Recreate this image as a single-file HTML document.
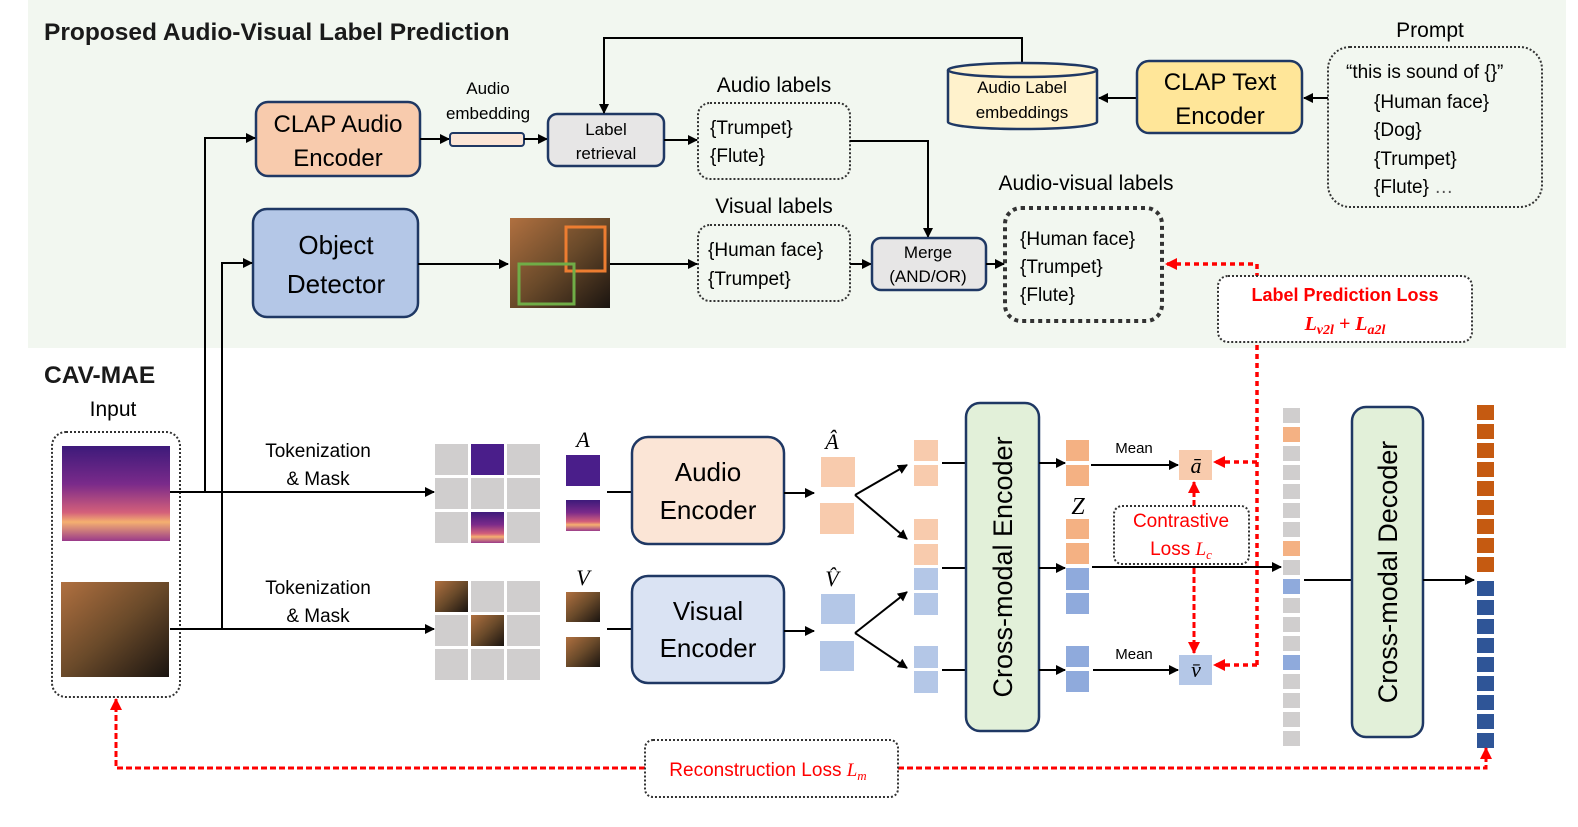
<!DOCTYPE html>
<html><head><meta charset="utf-8"><style>
html,body{margin:0;padding:0;background:#fff;}
svg{display:block;font-family:"Liberation Sans",sans-serif;}
</style></head><body>
<svg width="1578" height="827" viewBox="0 0 1578 827" xmlns="http://www.w3.org/2000/svg">
<defs>
<marker id="ab" markerWidth="10" markerHeight="10" refX="9" refY="5" orient="auto" markerUnits="userSpaceOnUse"><path d="M0,0 L10,5 L0,10 z" fill="#000"/></marker>
<marker id="ar" markerWidth="12" markerHeight="12" refX="11" refY="6" orient="auto" markerUnits="userSpaceOnUse"><path d="M0,0 L12,6 L0,12 z" fill="#f00"/></marker>
<linearGradient id="spec" x1="0" y1="0" x2="0" y2="1"><stop offset="0" stop-color="#3d1a7a"/><stop offset="0.4" stop-color="#7a2a8a"/><stop offset="0.7" stop-color="#d4607a"/><stop offset="0.8" stop-color="#f5b070"/><stop offset="1" stop-color="#9a3a8a"/></linearGradient>
<linearGradient id="vid" x1="0" y1="0" x2="1" y2="1"><stop offset="0" stop-color="#b07040"/><stop offset="0.5" stop-color="#6a4a2a"/><stop offset="1" stop-color="#1a1410"/></linearGradient>
</defs>
<rect x="28" y="0" width="1538" height="348" fill="#f2f7f0"/>
<text x="44" y="40" font-size="24.5" font-weight="bold" fill="#1a1a1a">Proposed Audio-Visual Label Prediction</text>

<!-- CLAP Audio -->
<rect x="256" y="102" width="164" height="74" rx="12" fill="#f8cbad" stroke="#1f3864" stroke-width="2.5"/>
<text x="338" y="132" font-size="24" text-anchor="middle">CLAP Audio</text>
<text x="338" y="166" font-size="24" text-anchor="middle">Encoder</text>
<line x1="420" y1="139" x2="449" y2="139" stroke="#000" stroke-width="2" marker-end="url(#ab)"/>
<rect x="450" y="133" width="74" height="13" rx="3" fill="#fbe5d6" stroke="#1f3864" stroke-width="2"/>
<text x="488" y="94" font-size="17" text-anchor="middle">Audio</text>
<text x="488" y="119" font-size="17" text-anchor="middle">embedding</text>
<line x1="524" y1="139" x2="547" y2="139" stroke="#000" stroke-width="2" marker-end="url(#ab)"/>
<rect x="548" y="114" width="116" height="52" rx="9" fill="#e7e6e6" stroke="#1f3864" stroke-width="2.5"/>
<text x="606" y="135" font-size="17" text-anchor="middle">Label</text>
<text x="606" y="159" font-size="17" text-anchor="middle">retrieval</text>
<polyline points="1022,63 1022,38 604,38 604,113" fill="none" stroke="#000" stroke-width="2" marker-end="url(#ab)"/>
<line x1="664" y1="140" x2="697" y2="140" stroke="#000" stroke-width="2" marker-end="url(#ab)"/>
<text x="774" y="92" font-size="21" text-anchor="middle">Audio labels</text>
<rect x="698" y="103" width="152" height="76" rx="12" fill="none" stroke="#333" stroke-width="2" stroke-dasharray="2,2"/>
<text x="710" y="134" font-size="19">{Trumpet}</text>
<text x="710" y="162" font-size="19">{Flute}</text>
<polyline points="850,141 928,141 928,237" fill="none" stroke="#000" stroke-width="2" marker-end="url(#ab)"/>

<!-- cylinder -->
<path d="M948,70 L948,122 A74.5,7 0 0 0 1097,122 L1097,70" fill="#fff2cc" stroke="#1f3864" stroke-width="2.5"/>
<ellipse cx="1022.5" cy="70" rx="74.5" ry="7" fill="#fff2cc" stroke="#1f3864" stroke-width="2.5"/>
<text x="1022" y="93" font-size="17" text-anchor="middle">Audio Label</text>
<text x="1022" y="118" font-size="17" text-anchor="middle">embeddings</text>
<line x1="1137" y1="98" x2="1099" y2="98" stroke="#000" stroke-width="2" marker-end="url(#ab)"/>
<rect x="1137" y="61" width="165" height="72" rx="12" fill="#ffe699" stroke="#1f3864" stroke-width="2.5"/>
<text x="1220" y="90" font-size="24" text-anchor="middle">CLAP Text</text>
<text x="1220" y="124" font-size="24" text-anchor="middle">Encoder</text>
<line x1="1328" y1="98" x2="1304" y2="98" stroke="#000" stroke-width="2" marker-end="url(#ab)"/>
<text x="1430" y="37" font-size="21" text-anchor="middle">Prompt</text>
<rect x="1328" y="47" width="214" height="160" rx="22" fill="none" stroke="#333" stroke-width="2" stroke-dasharray="2,2"/>
<text x="1346" y="78" font-size="19">“this is sound of {}”</text>
<text x="1374" y="108" font-size="19">{Human face}</text>
<text x="1374" y="136" font-size="19">{Dog}</text>
<text x="1374" y="165" font-size="19">{Trumpet}</text>
<text x="1374" y="193" font-size="19">{Flute} <tspan fill="#555">…</tspan></text>

<!-- Object detector -->
<rect x="253" y="209" width="165" height="108" rx="14" fill="#b4c7e7" stroke="#1f3864" stroke-width="2.5"/>
<text x="336" y="254" font-size="26" text-anchor="middle">Object</text>
<text x="336" y="293" font-size="26" text-anchor="middle">Detector</text>
<line x1="418" y1="264" x2="508" y2="264" stroke="#000" stroke-width="2" marker-end="url(#ab)"/>
<rect x="510" y="218" width="100" height="90" fill="url(#vid)"/>
<rect x="566" y="227" width="39" height="44" fill="none" stroke="#ed7d31" stroke-width="3"/>
<rect x="519" y="264" width="55" height="40" fill="none" stroke="#70ad47" stroke-width="3"/>
<line x1="610" y1="264" x2="697" y2="264" stroke="#000" stroke-width="2" marker-end="url(#ab)"/>
<text x="774" y="213" font-size="21" text-anchor="middle">Visual labels</text>
<rect x="698" y="225" width="152" height="76" rx="12" fill="none" stroke="#333" stroke-width="2" stroke-dasharray="2,2"/>
<text x="708" y="256" font-size="19">{Human face}</text>
<text x="708" y="285" font-size="19">{Trumpet}</text>
<line x1="850" y1="264" x2="871" y2="264" stroke="#000" stroke-width="2" marker-end="url(#ab)"/>
<rect x="872" y="238" width="114" height="52" rx="9" fill="#e7e6e6" stroke="#1f3864" stroke-width="2.5"/>
<text x="928" y="258" font-size="17" text-anchor="middle">Merge</text>
<text x="928" y="282" font-size="17" text-anchor="middle">(AND/OR)</text>
<line x1="986" y1="264" x2="1004" y2="264" stroke="#000" stroke-width="2" marker-end="url(#ab)"/>
<text x="1086" y="190" font-size="21" text-anchor="middle">Audio-visual labels</text>
<rect x="1005" y="208" width="157" height="113" rx="16" fill="none" stroke="#333" stroke-width="4" stroke-dasharray="4,4"/>
<text x="1020" y="245" font-size="19">{Human face}</text>
<text x="1020" y="273" font-size="19">{Trumpet}</text>
<text x="1020" y="301" font-size="19">{Flute}</text>

<!-- red label prediction loop -->
<polyline points="1257,665 1257,264 1166,264" fill="none" stroke="#f00" stroke-width="3.5" stroke-dasharray="5,4" marker-end="url(#ar)"/>
<line x1="1257" y1="462" x2="1214" y2="462" stroke="#f00" stroke-width="3.5" stroke-dasharray="5,4" marker-end="url(#ar)"/>
<line x1="1257" y1="665" x2="1214" y2="665" stroke="#f00" stroke-width="3.5" stroke-dasharray="5,4" marker-end="url(#ar)"/>
<rect x="1218" y="276" width="254" height="66" rx="10" fill="#fff" stroke="#333" stroke-width="2" stroke-dasharray="2,2"/>
<text x="1345" y="301" font-size="18" font-weight="bold" fill="#f00" text-anchor="middle">Label Prediction Loss</text>
<text x="1345" y="330" font-size="20" font-weight="bold" font-style="italic" fill="#f00" text-anchor="middle" font-family="Liberation Serif,serif">L<tspan font-size="14" dy="4">v2l</tspan><tspan dy="-4"> + L</tspan><tspan font-size="14" dy="4">a2l</tspan></text>

<!-- CAV-MAE -->
<text x="44" y="383" font-size="24.5" font-weight="bold" fill="#1a1a1a">CAV-MAE</text>
<text x="113" y="416" font-size="21" text-anchor="middle">Input</text>
<rect x="52" y="432" width="128" height="265" rx="14" fill="none" stroke="#333" stroke-width="2" stroke-dasharray="2,2"/>
<rect x="62" y="446" width="108" height="95" fill="url(#spec)"/>
<rect x="61" y="582" width="108" height="95" fill="url(#vid)"/>
<polyline points="205,492 205,138 255,138" fill="none" stroke="#000" stroke-width="2" marker-end="url(#ab)"/>
<polyline points="222,629 222,263 252,263" fill="none" stroke="#000" stroke-width="2" marker-end="url(#ab)"/>
<line x1="170" y1="492" x2="434" y2="492" stroke="#000" stroke-width="2" marker-end="url(#ab)"/>
<line x1="170" y1="629" x2="434" y2="629" stroke="#000" stroke-width="2" marker-end="url(#ab)"/>
<text x="318" y="457" font-size="19" text-anchor="middle">Tokenization</text>
<text x="318" y="485" font-size="19" text-anchor="middle">&amp; Mask</text>
<text x="318" y="594" font-size="19" text-anchor="middle">Tokenization</text>
<text x="318" y="622" font-size="19" text-anchor="middle">&amp; Mask</text>
<!-- grids -->
<g fill="#d0cece">
<rect x="435" y="444" width="33" height="31"/><rect x="507" y="444" width="33" height="31"/>
<rect x="435" y="478" width="33" height="31"/><rect x="471" y="478" width="33" height="31"/><rect x="507" y="478" width="33" height="31"/>
<rect x="435" y="512" width="33" height="31"/><rect x="507" y="512" width="33" height="31"/>
<rect x="471" y="581" width="33" height="31"/><rect x="507" y="581" width="33" height="31"/>
<rect x="435" y="615" width="33" height="31"/><rect x="507" y="615" width="33" height="31"/>
<rect x="435" y="649" width="33" height="31"/><rect x="471" y="649" width="33" height="31"/><rect x="507" y="649" width="33" height="31"/>
</g>
<rect x="471" y="444" width="33" height="31" fill="#4a1e8a"/>
<rect x="471" y="512" width="33" height="31" fill="url(#spec)"/>
<rect x="435" y="581" width="33" height="31" fill="url(#vid)"/>
<rect x="471" y="615" width="33" height="31" fill="url(#vid)"/>
<text x="583" y="447" font-size="22" font-style="italic" text-anchor="middle" font-family="Liberation Serif,serif">A</text>
<rect x="566" y="455" width="34" height="31" fill="#4a1e8a"/>
<rect x="566" y="500" width="34" height="31" fill="url(#spec)"/>
<text x="583" y="585" font-size="22" font-style="italic" text-anchor="middle" font-family="Liberation Serif,serif">V</text>
<rect x="566" y="592" width="34" height="30" fill="url(#vid)"/>
<rect x="566" y="637" width="34" height="30" fill="url(#vid)"/>
<line x1="607" y1="492" x2="632" y2="492" stroke="#000" stroke-width="2"/>
<line x1="607" y1="629" x2="632" y2="629" stroke="#000" stroke-width="2"/>
<rect x="632" y="437" width="152" height="107" rx="16" fill="#fbe5d6" stroke="#1f3864" stroke-width="2.5"/>
<text x="708" y="481" font-size="26" text-anchor="middle">Audio</text>
<text x="708" y="519" font-size="26" text-anchor="middle">Encoder</text>
<rect x="632" y="576" width="152" height="107" rx="16" fill="#dae3f3" stroke="#1f3864" stroke-width="2.5"/>
<text x="708" y="620" font-size="26" text-anchor="middle">Visual</text>
<text x="708" y="657" font-size="26" text-anchor="middle">Encoder</text>
<line x1="784" y1="493" x2="814" y2="493" stroke="#000" stroke-width="2" marker-end="url(#ab)"/>
<line x1="784" y1="631" x2="814" y2="631" stroke="#000" stroke-width="2" marker-end="url(#ab)"/>
<text x="832" y="449" font-size="22" font-style="italic" text-anchor="middle" font-family="Liberation Serif,serif">Â</text>
<text x="832" y="586" font-size="22" font-style="italic" text-anchor="middle" font-family="Liberation Serif,serif">V̂</text>
<rect x="821" y="457" width="34" height="30" fill="#f8cbad"/>
<rect x="820" y="503" width="34" height="31" fill="#f8cbad"/>
<rect x="821" y="594" width="34" height="30" fill="#b4c7e7"/>
<rect x="820" y="641" width="34" height="30" fill="#b4c7e7"/>
<g stroke="#000" stroke-width="2" fill="none">
<line x1="855" y1="495" x2="907" y2="465" marker-end="url(#ab)"/>
<line x1="855" y1="495" x2="907" y2="539" marker-end="url(#ab)"/>
<line x1="855" y1="633" x2="907" y2="592" marker-end="url(#ab)"/>
<line x1="855" y1="633" x2="907" y2="668" marker-end="url(#ab)"/>
<line x1="942" y1="463" x2="966" y2="463"/>
<line x1="942" y1="568" x2="966" y2="568"/>
<line x1="942" y1="670" x2="966" y2="670"/>
</g>
<g fill="#f8cbad"><rect x="914" y="440" width="24" height="21"/><rect x="914" y="465" width="24" height="21"/><rect x="914" y="519" width="24" height="21"/><rect x="914" y="544" width="24" height="21"/></g>
<g fill="#b4c7e7"><rect x="914" y="568" width="24" height="22"/><rect x="914" y="593" width="24" height="22"/><rect x="914" y="646" width="24" height="22"/><rect x="914" y="671" width="24" height="22"/></g>
<rect x="966" y="403" width="73" height="328" rx="14" fill="#e2f0d9" stroke="#1f3864" stroke-width="2.5"/>
<text transform="translate(1012,567) rotate(-90)" font-size="27" text-anchor="middle">Cross-modal Encoder</text>
<g stroke="#000" stroke-width="2">
<line x1="1039" y1="463" x2="1065" y2="463" marker-end="url(#ab)"/>
<line x1="1039" y1="568" x2="1065" y2="568" marker-end="url(#ab)"/>
<line x1="1039" y1="670" x2="1065" y2="670" marker-end="url(#ab)"/>
<line x1="1091" y1="465" x2="1178" y2="465" marker-end="url(#ab)"/>
<line x1="1093" y1="670" x2="1178" y2="670" marker-end="url(#ab)"/>
<line x1="1092" y1="567" x2="1281" y2="567" marker-end="url(#ab)"/>
</g>
<g fill="#f4b183"><rect x="1066" y="440" width="23" height="21"/><rect x="1066" y="465" width="23" height="21"/><rect x="1066" y="519" width="23" height="20"/><rect x="1066" y="543" width="23" height="21"/></g>
<g fill="#8faadc"><rect x="1066" y="568" width="23" height="22"/><rect x="1066" y="593" width="23" height="21"/><rect x="1066" y="646" width="23" height="21"/><rect x="1066" y="671" width="23" height="21"/></g>
<text x="1078" y="514" font-size="24" font-style="italic" text-anchor="middle" font-family="Liberation Serif,serif">Z</text>
<text x="1134" y="453" font-size="15" text-anchor="middle">Mean</text>
<text x="1134" y="659" font-size="15" text-anchor="middle">Mean</text>
<rect x="1179" y="450" width="33" height="30" fill="#f8cbad"/>
<text x="1196" y="473" font-size="22" font-style="italic" text-anchor="middle" font-family="Liberation Serif,serif">ā</text>
<rect x="1179" y="655" width="33" height="30" fill="#b4c7e7"/>
<text x="1196" y="677" font-size="22" font-style="italic" text-anchor="middle" font-family="Liberation Serif,serif">v̄</text>
<line x1="1194" y1="506" x2="1194" y2="482" stroke="#f00" stroke-width="3" stroke-dasharray="6,3" marker-end="url(#ar)"/>
<line x1="1194" y1="568" x2="1194" y2="653" stroke="#f00" stroke-width="3" stroke-dasharray="6,3" marker-end="url(#ar)"/>
<rect x="1114" y="506" width="135" height="58" rx="8" fill="none" stroke="#333" stroke-width="2" stroke-dasharray="2,2"/>
<text x="1181" y="527" font-size="19" fill="#f00" text-anchor="middle">Contrastive</text>
<text x="1181" y="555" font-size="19" fill="#f00" text-anchor="middle">Loss <tspan font-style="italic" font-family="Liberation Serif,serif">L<tspan font-size="13" dy="4">c</tspan></tspan></text>

<!-- token column -->
<g fill="#d0cece">
<rect x="1283" y="408" width="17" height="15"/><rect x="1283" y="446" width="17" height="15"/><rect x="1283" y="465" width="17" height="15"/><rect x="1283" y="484" width="17" height="15"/><rect x="1283" y="503" width="17" height="15"/><rect x="1283" y="522" width="17" height="15"/><rect x="1283" y="560" width="17" height="15"/><rect x="1283" y="598" width="17" height="15"/><rect x="1283" y="617" width="17" height="15"/><rect x="1283" y="636" width="17" height="15"/><rect x="1283" y="674" width="17" height="15"/><rect x="1283" y="693" width="17" height="15"/><rect x="1283" y="712" width="17" height="15"/><rect x="1283" y="731" width="17" height="15"/>
</g>
<rect x="1283" y="427" width="17" height="15" fill="#f4b183"/><rect x="1283" y="541" width="17" height="15" fill="#f4b183"/>
<rect x="1283" y="579" width="17" height="15" fill="#8faadc"/><rect x="1283" y="655" width="17" height="15" fill="#8faadc"/>
<line x1="1304" y1="580" x2="1352" y2="580" stroke="#000" stroke-width="2"/>
<rect x="1352" y="407" width="71" height="330" rx="14" fill="#e2f0d9" stroke="#1f3864" stroke-width="2.5"/>
<text transform="translate(1397,572) rotate(-90)" font-size="27" text-anchor="middle">Cross-modal Decoder</text>
<line x1="1423" y1="580" x2="1474" y2="580" stroke="#000" stroke-width="2" marker-end="url(#ab)"/>
<g fill="#c55a11">
<rect x="1477" y="405" width="17" height="15"/><rect x="1477" y="424" width="17" height="15"/><rect x="1477" y="443" width="17" height="15"/><rect x="1477" y="462" width="17" height="15"/><rect x="1477" y="481" width="17" height="15"/><rect x="1477" y="500" width="17" height="15"/><rect x="1477" y="519" width="17" height="15"/><rect x="1477" y="538" width="17" height="15"/><rect x="1477" y="557" width="17" height="15"/>
</g>
<g fill="#2f5597">
<rect x="1477" y="581" width="17" height="15"/><rect x="1477" y="600" width="17" height="15"/><rect x="1477" y="619" width="17" height="15"/><rect x="1477" y="638" width="17" height="15"/><rect x="1477" y="657" width="17" height="15"/><rect x="1477" y="676" width="17" height="15"/><rect x="1477" y="695" width="17" height="15"/><rect x="1477" y="714" width="17" height="15"/><rect x="1477" y="733" width="17" height="15"/>
</g>

<!-- reconstruction -->
<polyline points="645,768 116,768 116,699" fill="none" stroke="#f00" stroke-width="3" stroke-dasharray="6,3" marker-end="url(#ar)"/>
<polyline points="898,768 1486,768 1486,748" fill="none" stroke="#f00" stroke-width="3" stroke-dasharray="6,3" marker-end="url(#ar)"/>
<rect x="645" y="740" width="253" height="57" rx="8" fill="#fff" stroke="#333" stroke-width="2" stroke-dasharray="2,2"/>
<text x="768" y="776" font-size="19" fill="#f00" text-anchor="middle">Reconstruction Loss <tspan font-style="italic" font-family="Liberation Serif,serif">L<tspan font-size="13" dy="4">m</tspan></tspan></text>
</svg>
</body></html>
